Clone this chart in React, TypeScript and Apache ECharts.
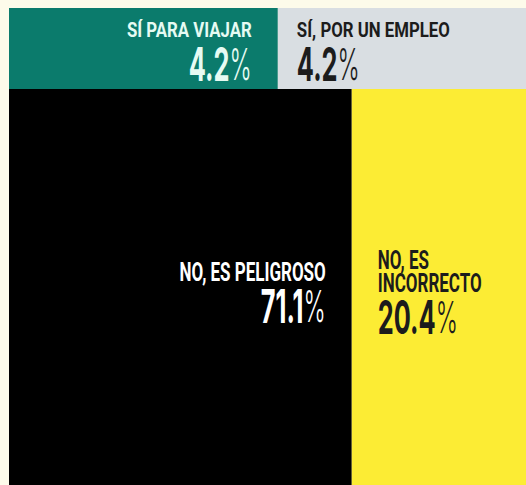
import React, { useEffect, useRef } from "react";
import * as echarts from "echarts";

// Answer categories and their shares (%)
const categories = ["SÍ PARA VIAJAR", "SÍ, POR UN EMPLEO", "NO, ES PELIGROSO", "NO, ES\nINCORRECTO"];
const percentages = [4.2, 4.2, 71.1, 20.4];

// Illustrative (non-proportional) mosaic layout, in unit fractions
const topRowSplit = 0.17;
const topColSplit = 0.52;
const bottomColSplit = 0.663;

// Styles
const fillColors = ["#0b7b6c", "#d9dee2", "#000000", "#fcec34"];
const textColors = ["#e6fbf3", "#1c1c1c", "#ffffff", "#1c1c1c"];
const textAligns = ["right", "left", "right", "left"];

export default function App() {
  const ref = useRef<HTMLDivElement>(null);

  useEffect(() => {
    document.body.style.margin = "0";
    document.body.style.background = "#fdfbea";
    if (!ref.current) return;
    const chart = echarts.init(ref.current, null, { renderer: "svg" });

    const bounds = [
      [0, topColSplit, 0, topRowSplit],
      [topColSplit, 1, 0, topRowSplit],
      [0, bottomColSplit, topRowSplit, 1],
      [bottomColSplit, 1, topRowSplit, 1],
    ];
    const data = bounds.map((b, i) => ({ value: [b[0], b[1], b[2], b[3], percentages[i]], name: categories[i] }));

    const font = "Roboto";
    const numFont = "Inter";

    chart.setOption({
      animation: false,
      backgroundColor: "#fdfbea",
      grid: { left: 9, top: 8, right: 0, bottom: 0 },
      xAxis: { type: "value", min: 0, max: 1, show: false },
      yAxis: { type: "value", min: 0, max: 1, inverse: true, show: false },
      series: [
        {
          type: "custom",
          data,
          renderItem: (params: any, api: any) => {
            const i = params.dataIndex;
            const p0 = api.coord([api.value(0), api.value(2)]);
            const p1 = api.coord([api.value(1), api.value(3)]);
            const x = Math.min(p0[0], p1[0]);
            const y = Math.min(p0[1], p1[1]);
            const w = Math.abs(p1[0] - p0[0]);
            const h = Math.abs(p1[1] - p0[1]);
            const align = textAligns[i];
            const isTop = i < 2;
            const tx = align === "right" ? x + w - 26 : x + (isTop ? 19 : 26);
            const cy = y + h / 2;
            const labelY = isTop ? y + 22 : cy - 15;
            const numY = isTop ? y + 56 : i === 2 ? cy + 19 : cy + 30;
            const labelSize = isTop ? 21 : 25;
            const pct = Number(api.value(4)).toFixed(1);
            return {
              type: "group",
              children: [
                {
                  type: "rect",
                  shape: { x, y, width: w, height: h },
                  style: { fill: fillColors[i] },
                },
                {
                  type: "text",
                  x: tx,
                  y: labelY,
                  scaleX: isTop ? 0.8 : 0.68,
                  style: {
                    text: categories[i],
                    fill: textColors[i],
                    fontFamily: font,
                    fontWeight: "bold",
                    fontSize: labelSize,
                    lineHeight: 23,
                    align,
                    verticalAlign: "middle",
                  },
                },
                {
                  type: "text",
                  x: tx,
                  y: numY,
                  scaleX: 0.54,
                  style: {
                    text: "{n|" + pct + "}{p|%}",
                    fill: textColors[i],
                    align,
                    verticalAlign: "middle",
                    rich: {
                      n: { fontFamily: numFont, fontWeight: "bold", fontSize: 47, fill: textColors[i] },
                      p: { fontFamily: numFont, fontWeight: 300, fontSize: 44, fill: textColors[i] },
                    },
                  },
                },
              ],
            };
          },
        },
      ],
    });
    return () => chart.dispose();
  }, []);

  return <div ref={ref} style={{ width: 526, height: 485 }} />;
}
